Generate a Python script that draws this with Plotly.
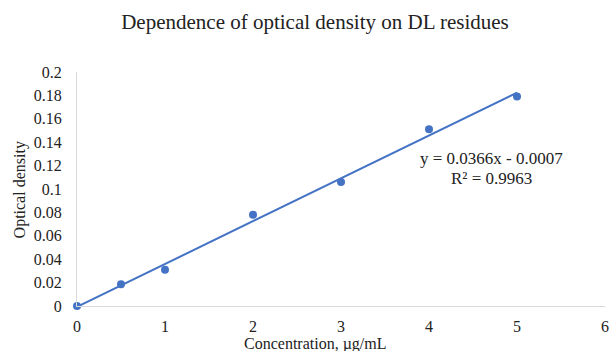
import plotly.graph_objects as go

conc = [0, 0.5, 1, 2, 3, 4, 5]
od = [0, 0.0185, 0.031, 0.078, 0.106, 0.151, 0.179]
slope = 0.0366
intercept = -0.0007
r2 = 0.9963
x_ticks = [0, 1, 2, 3, 4, 5, 6]
y_ticks = [0, 0.02, 0.04, 0.06, 0.08, 0.1, 0.12, 0.14, 0.16, 0.18, 0.2]

blue = "#4472C4"
font = "Liberation Serif"
txt = "#222"

fit_x = [0, 5]
fit_y = [slope * x + intercept for x in fit_x]

fig = go.Figure()
fig.add_trace(go.Scatter(x=fit_x, y=fit_y, mode="lines",
                         line=dict(color=blue, width=2), hoverinfo="skip",
                         cliponaxis=False))
fig.add_trace(go.Scatter(x=conc, y=od, mode="markers",
                         marker=dict(color=blue, size=8), cliponaxis=False))

fig.add_annotation(x=4.71, y=0.1265, xref="x", yref="y",
                   text=f"y = {slope}x - {abs(intercept)}", showarrow=False,
                   font=dict(family=font, size=17, color=txt))
fig.add_annotation(x=4.71, y=0.1094, xref="x", yref="y",
                   text=f"R² = {r2}", showarrow=False,
                   font=dict(family=font, size=17, color=txt))
# axis titles (positions given in pixels, converted to paper coordinates below)
fig.add_annotation(x=317, y=344, xref="paper", yref="paper",
                   text="Concentration, µg/mL", showarrow=False,
                   xanchor="center", yanchor="middle",
                   font=dict(family=font, size=16, color=txt))
fig.add_annotation(x=20, y=190, xref="paper", yref="paper",
                   text="Optical density", showarrow=False, textangle=-90,
                   xanchor="center", yanchor="middle",
                   font=dict(family=font, size=16, color=txt))

fig.update_layout(
    width=616, height=351,
    margin=dict(l=77, r=7, t=72, b=45),
    paper_bgcolor="white", plot_bgcolor="white",
    showlegend=False,
    title=dict(text="Dependence of optical density on DL residues",
               x=315 / 616, xanchor="center", y=1 - 22 / 351, yanchor="middle",
               font=dict(family=font, size=21, color=txt)),
    font=dict(family=font, color=txt),
)
pw, ph = 616 - 77 - 7, 351 - 72 - 45
for a in fig.layout.annotations[2:]:
    a.x = (a.x - 77) / pw
    a.y = (351 - 45 - a.y) / ph

fig.update_xaxes(range=[0, 6], tickvals=x_ticks, showgrid=False, zeroline=False,
                 showline=True, linecolor="#d9d9d9", linewidth=1,
                 tickfont=dict(size=16), ticks="", ticklabelstandoff=6)
fig.update_yaxes(range=[0, 0.2], tickvals=y_ticks, showgrid=False, zeroline=False,
                 showline=True, linecolor="#d9d9d9", linewidth=1,
                 tickfont=dict(size=16), ticks="outside", ticklen=11,
                 tickcolor="rgba(255,255,255,0)",
                 ticktext=[f"{v:g}" for v in y_ticks])

fig.write_html("out.html")
